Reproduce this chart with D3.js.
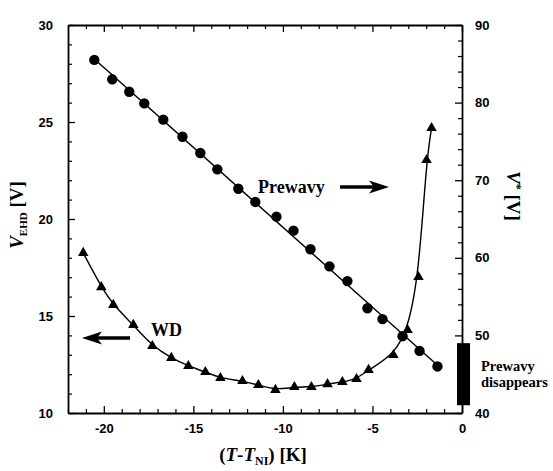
<!DOCTYPE html>
<html>
<head>
<meta charset="utf-8">
<script src="https://cdn.jsdelivr.net/npm/d3@7"></script>
<style>
body { margin: 0; background: #fff; }
</style>
</head>
<body>
<div id="chart"></div>
<script>
// WD threshold (triangles, left axis)
var wdT = [-21.15, -20.14, -19.47, -18.35, -17.29, -16.23, -15.28, -14.33, -13.49, -12.26, -11.37, -10.42,
           -9.36, -8.41, -7.51, -6.68, -5.89, -5.22, -3.83, -3.04, -2.43, -1.98, -1.70]
var wdV = [18.25, 16.49, 15.57, 14.54, 13.45, 12.84, 12.42, 12.11, 11.80, 11.65, 11.44, 11.19,
           11.34, 11.34, 11.49, 11.60, 11.75, 12.22, 12.99, 14.28, 17.01, 23.04, 24.69]

// Prewavy threshold (circles, right axis)
var preT = [-20.53, -19.53, -18.58, -17.74, -16.68, -15.61, -14.61, -13.66, -12.49, -11.54,
            -10.36, -9.41, -8.46, -7.40, -6.40, -5.28, -4.44, -3.32, -2.37, -1.37]
var preV = [85.5, 83.0, 81.4, 79.9, 77.8, 75.6, 73.5, 71.4, 68.9, 67.2,
            65.3, 63.5, 61.1, 58.9, 57.0, 53.5, 52.1, 49.9, 48.0, 46.0]

var xTicks = [-20, -15, -10, -5, 0]
var yLeftTicks = [10, 15, 20, 25, 30]
var yRightTicks = [40, 50, 60, 70, 80, 90]
var disappearRange = [41, 49]   // right axis span of the black bar

var width = 553, height = 471
var mLeft = 68, mRight = 462, mTop = 25, mBottom = 413

var svg = d3.select("#chart").append("svg")
    .attr("width", width)
    .attr("height", height)

var x = d3.scaleLinear().domain([-22, 0]).range([mLeft, mRight])
var yL = d3.scaleLinear().domain([10, 30]).range([mBottom, mTop])
var yR = d3.scaleLinear().domain([40, 90]).range([mBottom, mTop])

var tickFont = "'Liberation Sans', Arial, sans-serif"
var serif = "'Liberation Serif', 'Times New Roman', serif"

// minor ticks
var xMinor = d3.range(-22, 1, 1).filter(function(d){ return d % 5 != 0 })
var yLMinor = d3.range(10, 31, 1).filter(function(d){ return d % 5 != 0 })
var yRMinor = d3.range(40, 91, 2).filter(function(d){ return d % 10 != 0 })

function styleAxis(g) {
    g.selectAll("path.domain").attr("stroke", "#000").attr("stroke-width", 1.8)
    g.selectAll(".tick line").attr("stroke", "#000").attr("stroke-width", 1.3)
    g.selectAll("text").attr("font-family", tickFont).attr("font-weight", "bold")
        .attr("font-size", 13).attr("fill", "#000")
}

function addMinor(axis, transform, vals) {
    var g = svg.append("g").attr("transform", transform)
        .call(axis.tickValues(vals).tickSize(-4).tickFormat(""))
    g.select("path.domain").remove()
    g.selectAll(".tick line").attr("stroke", "#000").attr("stroke-width", 1.2)
}

addMinor(d3.axisBottom(x), "translate(0," + mBottom + ")", xMinor)
addMinor(d3.axisTop(x), "translate(0," + mTop + ")", xMinor)
addMinor(d3.axisLeft(yL), "translate(" + mLeft + ",0)", yLMinor)
addMinor(d3.axisRight(yR), "translate(" + mRight + ",0)", yRMinor)

svg.append("g").attr("transform", "translate(0," + mBottom + ")")
    .call(d3.axisBottom(x).tickValues(xTicks).tickSize(-7).tickSizeOuter(0).tickPadding(11)
        .tickFormat(function(d){ return String(d) }))
    .call(styleAxis)

svg.append("g").attr("transform", "translate(0," + mTop + ")")
    .call(d3.axisTop(x).tickValues(xTicks).tickSize(-7).tickSizeOuter(0).tickFormat(""))
    .call(styleAxis)

svg.append("g").attr("transform", "translate(" + mLeft + ",0)")
    .call(d3.axisLeft(yL).tickValues(yLeftTicks).tickSize(-7).tickSizeOuter(0).tickPadding(15)
        .tickFormat(function(d){ return String(d) }))
    .call(styleAxis)

svg.append("g").attr("transform", "translate(" + mRight + ",0)")
    .call(d3.axisRight(yR).tickValues(yRightTicks).tickSize(-7).tickSizeOuter(0).tickPadding(13)
        .tickFormat(function(d){ return String(d) }))
    .call(styleAxis)

// Prewavy: linear fit through the circles
var n = preT.length
var mx = d3.mean(preT), my = d3.mean(preV)
var sxy = 0, sxx = 0
for (var i = 0; i < n; i++) {
    sxy += (preT[i] - mx) * (preV[i] - my)
    sxx += (preT[i] - mx) * (preT[i] - mx)
}
var slope = sxy / sxx, icpt = my - slope * mx
var fitEnds = [preT[0], preT[n - 1]]
svg.append("path")
    .attr("d", d3.line()
        .x(function(d){ return x(d) })
        .y(function(d){ return yR(slope * d + icpt) })(fitEnds))
    .attr("fill", "none").attr("stroke", "#000").attr("stroke-width", 1.4)

// WD: smooth curve through triangles
var wdData = wdT.map(function(t, i){ return [t, wdV[i]] })
svg.append("path")
    .attr("d", d3.line()
        .x(function(d){ return x(d[0]) })
        .y(function(d){ return yL(d[1]) })
        .curve(d3.curveBasis)(wdData))
    .attr("fill", "none").attr("stroke", "#000").attr("stroke-width", 1.4)

svg.selectAll("circle.pre")
    .data(preT.map(function(t, i){ return [t, preV[i]] }))
    .enter().append("circle")
    .attr("class", "pre")
    .attr("cx", function(d){ return x(d[0]) })
    .attr("cy", function(d){ return yR(d[1]) })
    .attr("r", 5.2)
    .attr("fill", "#000")

svg.selectAll("path.wd")
    .data(wdData)
    .enter().append("path")
    .attr("class", "wd")
    .attr("d", d3.symbol().type(d3.symbolTriangle).size(48))
    .attr("transform", function(d){ return "translate(" + x(d[0]) + "," + yL(d[1]) + ")" })
    .attr("fill", "#000")

// black bar: prewavy disappears
svg.append("rect")
    .attr("x", x(0) - 5)
    .attr("width", 13)
    .attr("y", yR(disappearRange[1]))
    .attr("height", yR(disappearRange[0]) - yR(disappearRange[1]))
    .attr("fill", "#000")

svg.append("text")
    .attr("x", 481).attr("y", 371)
    .attr("font-family", serif).attr("font-weight", "bold").attr("font-size", 14.5)
    .text("Prewavy")
svg.append("text")
    .attr("x", 481).attr("y", 387)
    .attr("font-family", serif).attr("font-weight", "bold").attr("font-size", 14.5)
    .text("disappears")

// arrows
function arrow(x1, x2, yy) {
    var dir = x2 > x1 ? 1 : -1
    var headLen = 20
    svg.append("line")
        .attr("x1", x1).attr("x2", x2 - dir * headLen * 0.7)
        .attr("y1", yy).attr("y2", yy)
        .attr("stroke", "#000").attr("stroke-width", 3.4)
    svg.append("path")
        .attr("d", "M" + x2 + "," + yy + "L" + (x2 - dir * headLen) + "," + (yy - 6.5) +
            "L" + (x2 - dir * headLen * 0.75) + "," + yy + "L" + (x2 - dir * headLen) + "," + (yy + 6.5) + "Z")
        .attr("fill", "#000")
}

svg.append("text")
    .attr("x", 258).attr("y", 193)
    .attr("font-family", serif).attr("font-weight", "bold").attr("font-size", 18)
    .text("Prewavy")
arrow(340, 389, 187)

svg.append("text")
    .attr("x", 151).attr("y", 336)
    .attr("font-family", serif).attr("font-weight", "bold").attr("font-size", 18)
    .text("WD")
arrow(130, 82, 338)

// axis titles
var xt = svg.append("text")
    .attr("x", 263).attr("y", 461)
    .attr("text-anchor", "middle")
    .attr("font-family", serif).attr("font-weight", "bold").attr("font-size", 19)
xt.append("tspan").text("(")
xt.append("tspan").attr("font-style", "italic").text("T")
xt.append("tspan").text("-")
xt.append("tspan").attr("font-style", "italic").text("T")
xt.append("tspan").attr("font-size", 12).attr("dy", 4).text("NI")
xt.append("tspan").attr("dy", -4).text(") [K]")

var yt = svg.append("text")
    .attr("transform", "translate(23,215) rotate(-90)")
    .attr("text-anchor", "middle")
    .attr("font-family", serif).attr("font-weight", "bold").attr("font-size", 19)
yt.append("tspan").attr("font-style", "italic").text("V")
yt.append("tspan").attr("font-size", 11).attr("dy", 4).text("EHD")
yt.append("tspan").attr("dy", -4).text(" [V]")

var rt = svg.append("text")
    .attr("transform", "translate(507,196) rotate(90)")
    .attr("text-anchor", "middle")
    .attr("font-family", serif).attr("font-weight", "bold").attr("font-size", 19)
rt.append("tspan").attr("font-style", "italic").text("V")
rt.append("tspan").attr("font-size", 12).attr("dy", -6).text("*")
rt.append("tspan").attr("dy", 6).text(" [V]")
</script>
</body>
</html>
